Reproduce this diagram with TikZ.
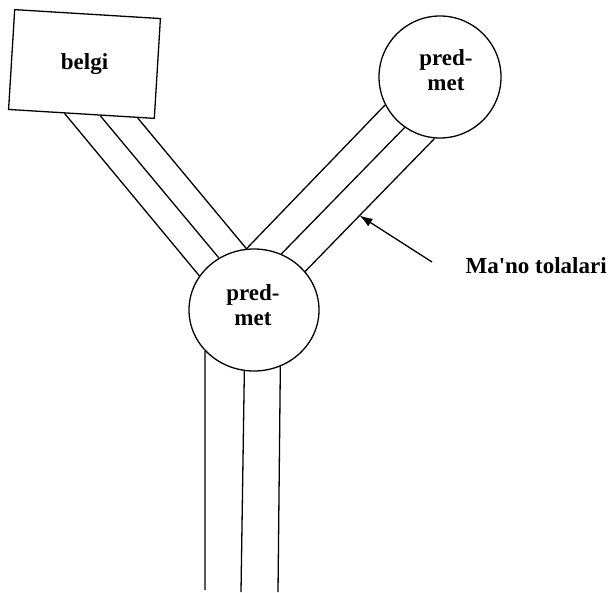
\documentclass[tikz,border=0pt]{standalone}
\usepackage{fontspec}
\setmainfont{Liberation Serif}
\usetikzlibrary{shapes.geometric,calc,arrows.meta}
\tikzset{
  fibre/.style={line width=1.3pt},
  lbl/.style={font=\fontsize{23}{25}\selectfont\bfseries, align=center},
  bubble/.style={draw, line width=1.3pt, ellipse, inner sep=0pt},
}
\begin{document}
\begin{tikzpicture}[x=1pt,y=-1pt]
\useasboundingbox (0,0) rectangle (612,593);
% sign box
\node[draw, line width=1.3pt, rotate=-3.5, minimum width=146pt, minimum height=100pt, inner sep=0pt] (box) at (84.5,64) {};
\node[lbl] (boxtext) at (box.center) {belgi};
% circles
\node[bubble, minimum width=122pt, minimum height=122pt] (top) at (440,77) {};
\node[lbl] (toptext) at (446,70) {pred-\\met};
\node[bubble, minimum width=130pt, minimum height=122pt] (mid) at (254,310) {};
\node[lbl] (midtext) at (253,305) {pred-\\met};
% fibres box -> middle
\draw[fibre] ($(box.south west)!0.386!(box.south east)$) -- (mid.148);
\draw[fibre] ($(box.south west)!0.628!(box.south east)$) -- (mid.124.7);
\draw[fibre] ($(box.south west)!0.883!(box.south east)$) -- (mid.97.6);
% fibres middle -> top
\draw[fibre] (mid.97.6) -- (top.207.8);
\draw[fibre] (mid.64.3) -- (top.235.2);
\draw[fibre] (mid.37.2) -- (top.265.3);
% fibres downwards
\coordinate (b1) at (205,590);
\coordinate (b2) at (241,592);
\coordinate (b3) at (278,592);
\draw[fibre] (mid.220.4) -- (b1);
\draw[fibre] (mid.261) -- (b2);
\draw[fibre] (mid.295) -- (b3);
% arrow and label
\coordinate (tail) at (432,262);
\coordinate (tip) at ($(mid.37.2)!0.42!(top.265.3)$);
\draw[line width=1.3pt, -{Latex[length=13pt,width=9pt]}] (tail) -- (tip);
\node[lbl, anchor=west] (fib) at (462,266) {Ma\textquotesingle no tolalari};
\end{tikzpicture}
\end{document}
